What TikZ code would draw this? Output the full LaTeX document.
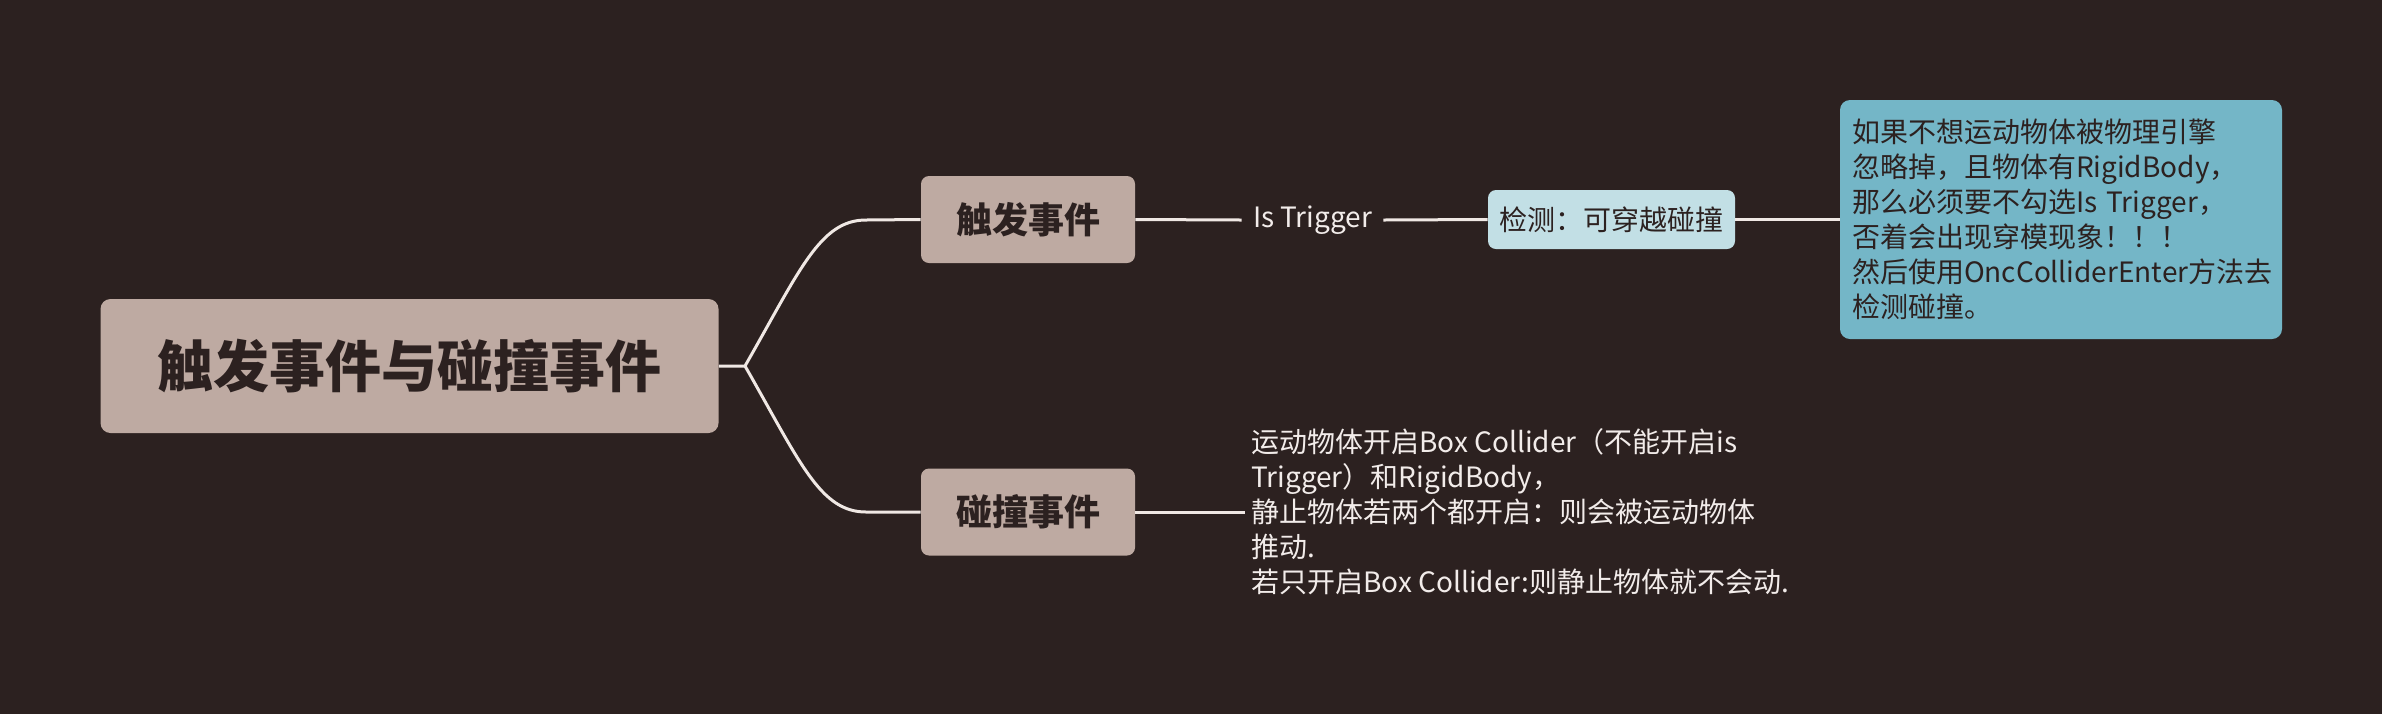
\documentclass[tikz,border=0pt]{standalone}
\usepackage{fontspec}
\setmainfont{Noto Sans CJK SC}
\definecolor{bg}{HTML}{2C2120}
\definecolor{taupe}{HTML}{BEAAA2}
\definecolor{dark}{HTML}{2C2120}
\definecolor{lightblue}{HTML}{C2DFE5}
\definecolor{midblue}{HTML}{74B6C7}
\definecolor{linec}{HTML}{F0E8E4}
\definecolor{wtext}{HTML}{F2ECEA}
\tikzset{
  conn/.style={draw=linec, line width=1.5pt},
  rootbox/.style={fill=taupe, rounded corners=5pt, minimum width=309pt, minimum height=67pt, text=dark, font=\fontsize{28pt}{34pt}\selectfont\bfseries, inner sep=0pt},
  topicbox/.style={fill=taupe, rounded corners=4pt, minimum width=107pt, minimum height=43.5pt, text=dark, font=\fontsize{18pt}{21pt}\selectfont\bfseries, inner sep=0pt},
  labeltext/.style={text=wtext, font=\fontsize{14pt}{17.5pt}\selectfont, inner sep=0pt},
  smallbox/.style={fill=lightblue, rounded corners=4pt, minimum width=123.5pt, minimum height=29.5pt, text=dark, font=\fontsize{14pt}{17.5pt}\selectfont, inner sep=0pt},
  bigbox/.style={fill=midblue, rounded corners=5pt, minimum width=221pt, minimum height=119.5pt, text=dark, font=\fontsize{14pt}{17.5pt}\selectfont, inner xsep=6pt, inner ysep=0pt, text width=209pt, align=left},
}
\begin{document}
\begin{tikzpicture}[x=0.5pt, y=-0.5pt]
  \fill[bg] (0,0) rectangle (2382,714);
  \useasboundingbox (0,0) rectangle (2382,714);

  \node[rootbox] (root) at (409.5,366) {触发事件与碰撞事件};
  \node[topicbox] (trig) at (1028,219.5) {触发事件};
  \node[topicbox] (coll) at (1028,512) {碰撞事件};

  \node[labeltext, minimum width=70.5pt] (istrig) at (1312.5,220) {Is Trigger};
  \node[smallbox] (det) at (1611.5,219.5) {检测：可穿越碰撞};
  \node[bigbox] (big) at (2061,219.5) {如果不想运动物体被物理引擎\\忽略掉，且物体有RigidBody，\\那么必须要不勾选Is Trigger，\\否着会出现穿模现象！！！\\然后使用OncColliderEnter方法去\\检测碰撞。};

  \node[labeltext, anchor=west, align=left, inner xsep=3pt] (colltext) at (1245,512) {运动物体开启Box Collider（不能开启is\\Trigger）和RigidBody，\\静止物体若两个都开启：则会被运动物体\\推动.\\若只开启Box Collider:则静止物体就不会动.};

  \coordinate (j) at (745,366);
  \coordinate (ja) at (866,220);
  \coordinate (jb) at (866,512);

  \draw[conn] (root.east) -- (j) .. controls (800,270) and (820,220) .. (ja) -- (trig.west);
  \draw[conn] (j) .. controls (800,462) and (820,512) .. (jb) -- (coll.west);
  \draw[conn] (trig.east) -- (istrig.west);
  \draw[conn] (istrig.east) -- (det.west);
  \draw[conn] (det.east) -- (big.west);
  \draw[conn] (coll.east) -- (colltext.west);
\end{tikzpicture}
\end{document}
